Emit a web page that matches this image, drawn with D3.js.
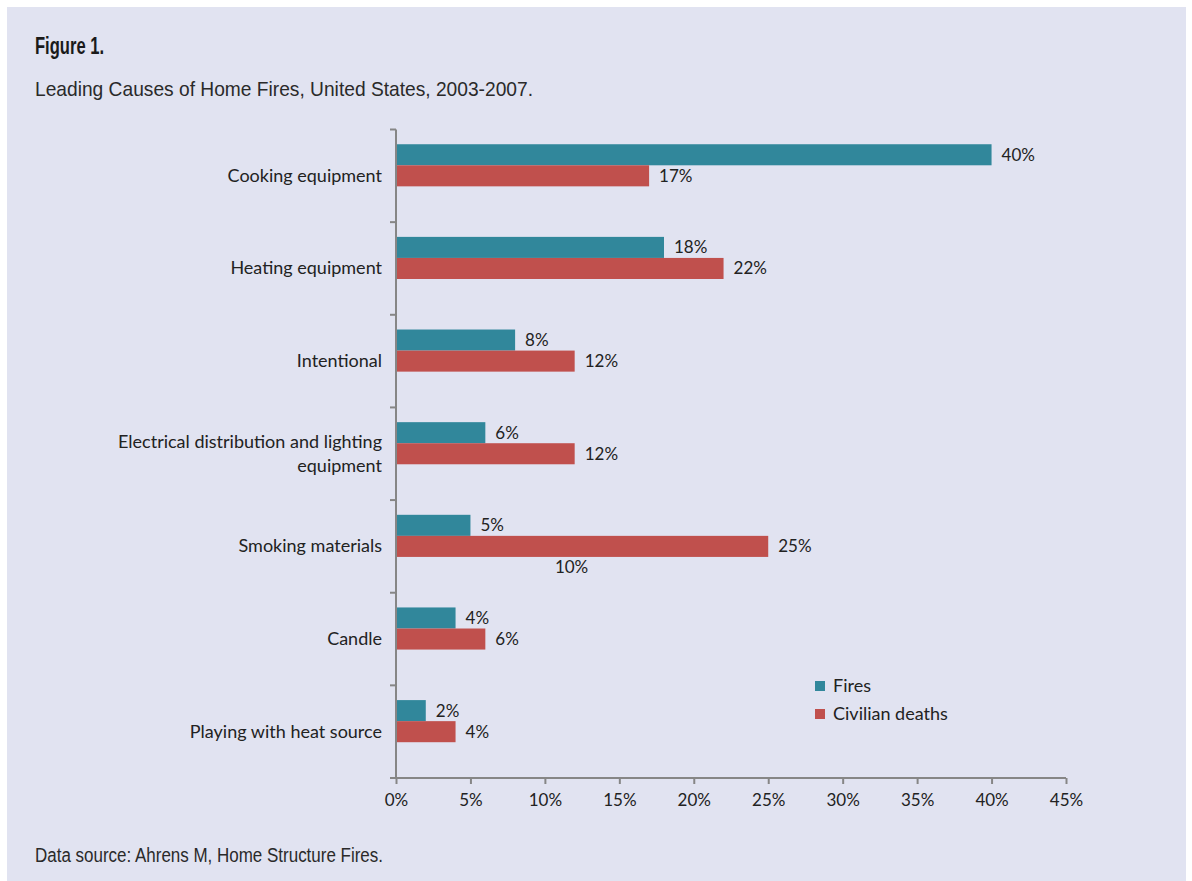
<!DOCTYPE html>
<html>
<head>
<meta charset="utf-8">
<script src="https://cdn.jsdelivr.net/npm/d3@7"></script>
<style>
  body { margin: 0; background: #fff; }
  svg { display: block; }
</style>
</head>
<body>
<div id="chart"></div>
<script>
const categories = ["Cooking equipment", "Heating equipment", "Intentional",
  "Electrical distribution and lighting|equipment", "Smoking materials", "Candle",
  "Playing with heat source"];
const fires = [40, 18, 8, 6, 5, 4, 2];
const deaths = [17, 22, 12, 12, 25, 6, 4];
// hidden third series, only its stray label shows
const hiddenSeries = [null, null, null, null, 10, null, null];
const seriesNames = ["Fires", "Civilian deaths", "hidden"];
const seriesColors = ["#31879b", "#c0504d", "none"];
const xTicks = [0, 5, 10, 15, 20, 25, 30, 35, 40, 45];

const W = 1192, H = 881;
const svg = d3.select("#chart").append("svg")
  .attr("width", W).attr("height", H);

// panel background
svg.append("rect")
  .attr("x", 7).attr("y", 7).attr("width", 1179).attr("height", H - 7)
  .attr("fill", "#e1e3f1");

svg.append("text").attr("x", 35).attr("y", 54)
  .attr("font-family", "Liberation Sans, Arial, sans-serif")
  .attr("font-weight", "bold").attr("font-size", 24)
  .attr("fill", "#1a1a1a")
  .attr("textLength", 69).attr("lengthAdjust", "spacingAndGlyphs")
  .text("Figure 1.");

svg.append("text").attr("x", 35).attr("y", 96)
  .attr("font-family", "Liberation Sans, Arial, sans-serif")
  .attr("font-size", 21).attr("fill", "#2a2a2a")
  .attr("textLength", 498).attr("lengthAdjust", "spacingAndGlyphs")
  .text("Leading Causes of Home Fires, United States, 2003-2007.");

svg.append("text").attr("x", 35).attr("y", 862)
  .attr("font-family", "Liberation Sans, Arial, sans-serif")
  .attr("font-size", 20).attr("fill", "#2a2a2a")
  .attr("textLength", 348).attr("lengthAdjust", "spacingAndGlyphs")
  .text("Data source: Ahrens M, Home Structure Fires.");

const plotLeft = 396, plotRight = 1066, plotTop = 129.5, plotBottom = 778;
const font = "Lato, Calibri, sans-serif";

const x = d3.scaleLinear().domain([0, 45]).range([plotLeft, plotRight]);
const y = d3.scaleBand().domain(categories).range([plotTop, plotBottom]);
// three slots per category, bar group centred in the band
const ySub = d3.scaleBand().domain(seriesNames)
  .range([0, y.bandwidth()]).paddingOuter(0.7).paddingInner(0);

const g = svg.append("g");

const rows = categories.map((c, i) => ({
  cat: c, vals: [fires[i], deaths[i], hiddenSeries[i]]
}));

rows.forEach(r => {
  r.vals.forEach((v, k) => {
    if (v == null) return;
    const by = y(r.cat) + ySub(seriesNames[k]);
    if (seriesColors[k] !== "none") {
      g.append("rect")
        .attr("x", x(0)).attr("y", by)
        .attr("width", x(v) - x(0)).attr("height", ySub.bandwidth())
        .attr("fill", seriesColors[k]);
    }
    g.append("text")
      .attr("x", x(v) + 10).attr("y", by + ySub.bandwidth() / 2 + 6)
      .attr("font-family", font).attr("font-size", 17).attr("fill", "#222")
      .text(v + "%");
  });
});

// y axis
const yAxis = g.append("g").attr("transform", `translate(${plotLeft},0)`);
yAxis.append("line").attr("x1", 0).attr("x2", 0).attr("y1", plotTop).attr("y2", plotBottom)
  .attr("stroke", "#868686").attr("stroke-width", 2);
d3.range(categories.length + 1).forEach(i => {
  const ty = plotTop + i * y.step();
  yAxis.append("line").attr("x1", -6).attr("x2", 0).attr("y1", ty).attr("y2", ty)
    .attr("stroke", "#868686").attr("stroke-width", 2);
});
categories.forEach(c => {
  const lines = c.split("|");
  const cy = y(c) + y.bandwidth() / 2;
  const t = yAxis.append("text")
    .attr("x", -14).attr("text-anchor", "end")
    .attr("font-family", font).attr("font-size", 18).attr("fill", "#222");
  lines.forEach((ln, j) => {
    t.append("tspan").attr("x", -14)
      .attr("y", cy + 6 + (j - (lines.length - 1) / 2) * 24)
      .text(ln);
  });
});

// x axis
const xAxis = g.append("g").attr("transform", `translate(0,${plotBottom})`)
  .call(d3.axisBottom(x).tickValues(xTicks).tickFormat(d => d + "%")
    .tickSize(6).tickPadding(10));
xAxis.select(".domain").attr("stroke", "#868686").attr("stroke-width", 2)
  .attr("d", `M${plotLeft},0H${plotRight}`);
xAxis.selectAll(".tick line").attr("stroke", "#868686").attr("stroke-width", 2);
xAxis.selectAll(".tick text").attr("font-family", font).attr("font-size", 17)
  .attr("fill", "#222");

// legend
const legend = svg.append("g").attr("transform", "translate(815,681)");
seriesNames.slice(0, 2).forEach((s, i) => {
  legend.append("rect").attr("x", 0).attr("y", i * 28)
    .attr("width", 10).attr("height", 10).attr("fill", seriesColors[i]);
  legend.append("text").attr("x", 18).attr("y", i * 28 + 11)
    .attr("font-family", font).attr("font-size", 18).attr("fill", "#222")
    .text(s);
});
</script>
</body>
</html>
